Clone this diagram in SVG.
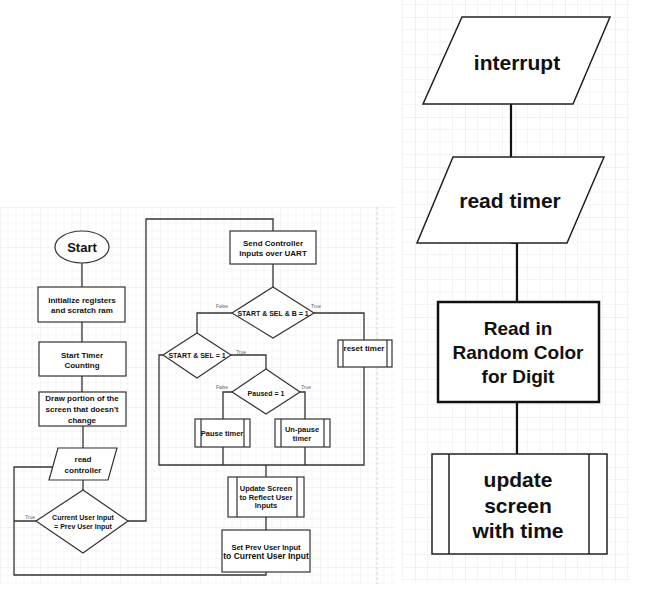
<svg xmlns="http://www.w3.org/2000/svg" width="660" height="596" viewBox="0 0 660 596">
<style>
.s{fill:#fff;stroke:#333;stroke-width:1.2}
.r{fill:#fff;stroke:#222;stroke-width:1.5}
.c{fill:none;stroke:#333;stroke-width:1.3}
.cr{fill:none;stroke:#111;stroke-width:2.2}
.t{font-family:"Liberation Sans",Arial,sans-serif;font-weight:bold;fill:#111;text-anchor:middle}
.l{font-family:"Liberation Sans",Arial,sans-serif;font-size:5px;fill:#666;text-anchor:middle}
</style>
<defs>
<pattern id="gl" x="0" y="207" width="40" height="40" patternUnits="userSpaceOnUse">
<path d="M8 0V40M16 0V40M24 0V40M32 0V40M0 8H40M0 16H40M0 24H40M0 32H40" stroke="#eee" stroke-width="0.6" fill="none"/>
<path d="M0 0V40M0 0H40" stroke="#e2e2e2" stroke-width="0.8" fill="none"/>
</pattern>
<pattern id="gr" x="15" y="17" width="50" height="50" patternUnits="userSpaceOnUse">
<path d="M12.5 0V50M25 0V50M37.5 0V50M0 12.5H50M0 25H50M0 37.5H50" stroke="#f1f1f1" stroke-width="0.8" fill="none"/>
<path d="M0 0V50M0 0H50" stroke="#e6e6e6" stroke-width="1.2" fill="none"/>
</pattern>
</defs>
<rect width="660" height="596" fill="#fff"/>
<rect x="0" y="207" width="396" height="377" fill="url(#gl)"/>
<line x1="377" y1="207" x2="377" y2="584" stroke="#ccc" stroke-width="0.8" stroke-dasharray="3,2"/>
<rect x="402" y="0" width="228" height="582" fill="url(#gr)"/>

<g id="connectors">
<path class="c" d="M82 263V287M82 322V342M82 376V392M83 426V448M83 480V490"/>
<path class="c" d="M53 467H14V575H266V572M36 521H14"/>
<path class="c" d="M128 521H146V219H273V231M273 264V287"/>
<path class="c" d="M232 313H197V333M314 313H364V340"/>
<path class="c" d="M163 355H159V465H364V367M231 355H266V369"/>
<path class="c" d="M232 392H223V419M300 392H305V419M223 447V465M305 447V465"/>
<path class="c" d="M266 465V477M266 517V530"/>
<path class="cr" d="M511 104V157M511 243H517V302M517 402V454"/>
</g>

<g id="start"><ellipse class="s" cx="82" cy="247" rx="27" ry="16"/><text class="t" x="82" y="252" font-size="13">Start</text></g>
<g id="init"><rect class="s" x="38" y="287" width="87" height="35"/><text class="t" font-size="8"><tspan x="82" y="302.5">Initialize registers</tspan><tspan x="82" y="312.5">and scratch ram</tspan></text></g>
<g id="timer"><rect class="s" x="39" y="342" width="87" height="34"/><text class="t" font-size="8"><tspan x="82" y="357.5">Start Timer</tspan><tspan x="82" y="367.5">Counting</tspan></text></g>
<g id="draw"><rect class="s" x="39" y="392" width="87" height="34"/><text class="t" font-size="8"><tspan x="82" y="401">Draw portion of the</tspan><tspan x="82" y="411.5">screen that doesn't</tspan><tspan x="82" y="422.5">change</tspan></text></g>
<g id="readctl"><polygon class="s" points="58,448 117,448 108,480 49,480"/><text class="t" font-size="8"><tspan x="83" y="461.5">read</tspan><tspan x="83" y="472.5">controller</tspan></text></g>
<g id="cmp"><polygon class="s" points="83,490 128,521 83,553 36,521"/><text class="t" font-size="7"><tspan x="83" y="519.5">Current User Input</tspan><tspan x="83" y="528.5">= Prev User Input</tspan></text><text class="l" x="30" y="519">True</text></g>
<g id="send"><rect class="s" x="230" y="231" width="86" height="33"/><text class="t" font-size="8"><tspan x="273" y="245.5">Send Controller</tspan><tspan x="273" y="255.5">Inputs over UART</tspan></text></g>
<g id="d1"><polygon class="s" points="273,287 314,313 273,338 232,313"/><text class="t" x="273" y="315.5" font-size="7">START &amp; SEL &amp; B = 1</text><text class="l" x="222" y="308">False</text><text class="l" x="316" y="308">True</text></g>
<g id="d2"><polygon class="s" points="197,333 231,355 197,378 163,355"/><text class="t" x="197" y="357.5" font-size="7">START &amp;  SEL = 1</text><text class="l" x="241" y="354">True</text></g>
<g id="reset"><rect class="s" x="338" y="340" width="54" height="27"/><path class="s" d="M343 340V367M387 340V367"/><text class="t" x="364" y="351" font-size="8">reset timer</text></g>
<g id="paused"><polygon class="s" points="266,369 300,392 266,414 232,392"/><text class="t" x="266" y="395.5" font-size="7">Paused = 1</text><text class="l" x="222" y="389">False</text><text class="l" x="306" y="389">True</text></g>
<g id="pause"><rect class="s" x="195" y="419" width="55" height="28"/><path class="s" d="M201 419V447M244 419V447"/><text class="t" x="222" y="436" font-size="7.5">Pause timer</text></g>
<g id="unpause"><rect class="s" x="275" y="419" width="55" height="28"/><path class="s" d="M281 419V447M324 419V447"/><text class="t" font-size="7.5"><tspan x="302" y="431.5">Un-pause</tspan><tspan x="302" y="440.5">timer</tspan></text></g>
<g id="update"><rect class="s" x="228" y="477" width="76" height="40"/><path class="s" d="M237 477V517M297 477V517"/><text class="t" font-size="7.5"><tspan x="266" y="490.5">Update Screen</tspan><tspan x="266" y="499.5">to Reflect User</tspan><tspan x="266" y="508">Inputs</tspan></text></g>
<g id="setprev"><rect class="s" x="222" y="530" width="88" height="42"/><text class="t"><tspan x="266" y="549.5" font-size="7.5">Set Prev User Input</tspan><tspan x="266" y="558.5" font-size="8.5">to Current User Input</tspan></text></g>

<g id="interrupt"><polygon class="r" points="462,17 610,17 573,104 423,104"/><text class="t" x="517" y="69.5" font-size="21">interrupt</text></g>
<g id="readtimer"><polygon class="r" points="453,157 604,157 567,243 417,243"/><text class="t" x="510" y="207.5" font-size="21">read timer</text></g>
<g id="color"><rect x="438" y="302" width="161" height="100" fill="#fff" stroke="#111" stroke-width="2.5"/><text class="t" font-size="19"><tspan x="518" y="334.5">Read in</tspan><tspan x="518" y="358.5">Random Color</tspan><tspan x="518" y="382.5">for Digit</tspan></text></g>
<g id="screen"><rect class="r" x="432" y="454" width="175" height="100"/><path class="r" d="M449 454V554M589 454V554"/><text class="t" font-size="21"><tspan x="518" y="486.5">update</tspan><tspan x="518" y="512.5">screen</tspan><tspan x="518" y="537.5">with time</tspan></text></g>
</svg>
